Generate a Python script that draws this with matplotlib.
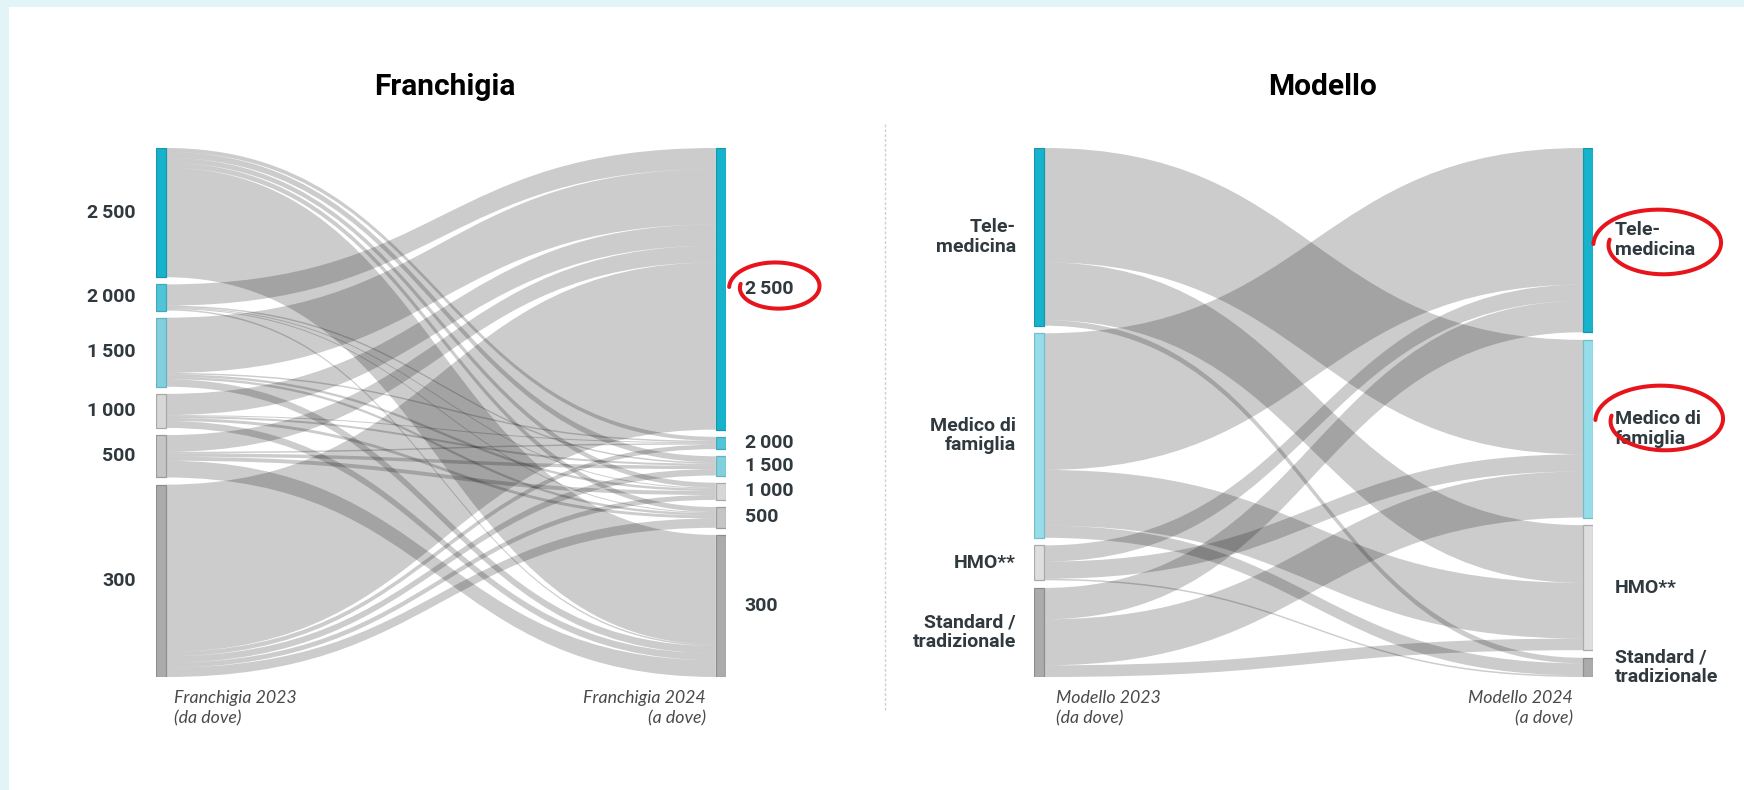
import numpy as np
import matplotlib
matplotlib.use("Agg")
import matplotlib.pyplot as plt
from matplotlib.path import Path
from matplotlib.patches import PathPatch, Rectangle
from matplotlib.lines import Line2D

plt.rcParams['font.family'] = ['Roboto', 'DejaVu Sans']

# ---------------- data (share of people who changed, %) ----------------
fr_labels = ["2\u2009500", "2\u2009000", "1\u2009500", "1\u2009000", "500", "300"]
# rows: Franchigia 2023 (da dove) ; columns: Franchigia 2024 (a dove), same order as fr_labels
fr_from_2500 = [0.0, 0.8, 1.2, 1.0, 1.0, 22.2]
fr_from_2000 = [4.3, 0.0, 0.3, 0.2, 0.2, 0.3]
fr_from_1500 = [11.2, 0.3, 0.0, 0.5, 0.5, 1.5]
fr_from_1000 = [4.3, 0.2, 0.4, 0.0, 0.6, 1.4]
fr_from_500 = [3.4, 0.3, 0.7, 0.8, 0.0, 3.4]
fr_from_300 = [33.9, 0.9, 1.3, 1.0, 1.9, 0.0]

mo_labels = ["Tele-\nmedicina", "Medico di\nfamiglia", "HMO**", "Standard /\ntradizionale"]
# rows: Modello 2023 ; columns: Modello 2024
mo_from_tele = [0.0, 22.6, 11.4, 1.1]
mo_from_medico = [27.0, 0.0, 11.0, 2.4]
mo_from_hmo = [3.2, 3.4, 0.0, 0.3]
mo_from_standard = [6.2, 9.1, 2.3, 0.0]

fr_colors = ["#17b3cc", "#52c4d7", "#82cfdd", "#d7d7d7", "#c5c5c5", "#ababab"]
fr_edges = ["#1597ad", "#3ea9bb", "#67b3c0", "#a9a9a9", "#9c9c9c", "#8e8e8e"]
mo_colors = ["#17b3cc", "#97dde9", "#dedede", "#ababab"]
mo_edges = ["#1597ad", "#72bfcb", "#ababab", "#8e8e8e"]

W, H = 1744, 790
fig = plt.figure(figsize=(W / 100, H / 100), dpi=100)
fig.patch.set_facecolor("#e2f4f8")
fig.add_artist(Rectangle((9 / W, 0), 1 - 9 / W, 1 - 7 / H, transform=fig.transFigure,
                         facecolor="white", edgecolor="none", zorder=0))

TXT = "#2f393e"


def fx(x):
    return x / W


def fy(y):
    return 1 - y / H


def sankey(rect_px, flows, colors, edges, labels, pad, lab_off_l, lab_off_r, fsize):
    x0, x1, y0, y1 = rect_px
    ax = fig.add_axes([fx(x0), fy(y1), (x1 - x0) / W, (y1 - y0) / H])
    ax.axis("off")
    flows = np.array(flows, float)
    n = len(flows)
    out_tot = flows.sum(1)
    in_tot = flows.sum(0)
    topL = np.concatenate([[0], np.cumsum(out_tot + pad)[:-1]])
    topR = np.concatenate([[0], np.cumsum(in_tot + pad)[:-1]])
    total = max(out_tot.sum(), in_tot.sum()) + (n - 1) * pad
    ax.set_xlim(0, 1)
    ax.set_ylim(total, 0)
    nw = 10.0 / (x1 - x0)
    xa, xb = nw, 1 - nw
    xm = (xa + xb) / 2
    so = topL.copy()
    to = topR.copy()
    codes = [Path.MOVETO, Path.CURVE4, Path.CURVE4, Path.CURVE4, Path.LINETO,
             Path.CURVE4, Path.CURVE4, Path.CURVE4, Path.CLOSEPOLY]
    for i in range(n):
        for j in range(n):
            v = flows[i, j]
            if v <= 0:
                continue
            s0, s1 = so[i], so[i] + v
            t0, t1 = to[j], to[j] + v
            so[i] = s1
            to[j] = t1
            verts = [(xa, s0), (xm, s0), (xm, t0), (xb, t0), (xb, t1),
                     (xm, t1), (xm, s1), (xa, s1), (xa, s0)]
            ax.add_patch(PathPatch(Path(verts, codes), facecolor=(0, 0, 0, 0.2),
                                   edgecolor="none", lw=0, zorder=1))
    for i in range(n):
        ax.add_patch(Rectangle((0, topL[i]), nw, out_tot[i], facecolor=colors[i],
                               edgecolor=edges[i], lw=0.9, zorder=3))
        ax.add_patch(Rectangle((1 - nw, topR[i]), nw, in_tot[i], facecolor=colors[i],
                               edgecolor=edges[i], lw=0.9, zorder=3))
        ax.annotate(labels[i], xy=(0, topL[i] + out_tot[i] / 2), xytext=(-lab_off_l, 0),
                    textcoords="offset pixels", ha="right", va="center", multialignment="right",
                    fontsize=fsize, fontweight="bold", color=TXT, linespacing=1.12)
        ax.annotate(labels[i], xy=(1, topR[i] + in_tot[i] / 2), xytext=(lab_off_r, 0),
                    textcoords="offset pixels", ha="left", va="center", multialignment="left",
                    fontsize=fsize, fontweight="bold", color=TXT, linespacing=1.12)
    return ax


fr_flows = [fr_from_2500, fr_from_2000, fr_from_1500, fr_from_1000, fr_from_500, fr_from_300]
mo_flows = [mo_from_tele, mo_from_medico, mo_from_hmo, mo_from_standard]

axF = sankey((155.7, 725.7, 148, 677), fr_flows, fr_colors, fr_edges, fr_labels,
             1.45, 20, 19, 14)
axM = sankey((1034, 1593, 148, 677), mo_flows, mo_colors, mo_edges, mo_labels,
             1.5, 18, 22, 14)

# titles
fig.text(fx(445), fy(87), "Franchigia", ha="center", va="center", fontsize=21.5,
         fontweight="bold", color="black")
fig.text(fx(1322), fy(87), "Modello", ha="center", va="center", fontsize=21.5,
         fontweight="bold", color="black")

# captions
cap = dict(fontsize=12.8, style="italic", color="#4a4a4a", va="top", linespacing=1.32,
           family=['Lato', 'DejaVu Sans'])
fig.text(fx(174), fy(690), "Franchigia 2023\n(da dove)", ha="left", **cap)
fig.text(fx(706), fy(690), "Franchigia 2024\n(a dove)", ha="right", multialignment="right", **cap)
fig.text(fx(1056), fy(690), "Modello 2023\n(da dove)", ha="left", **cap)
fig.text(fx(1573), fy(690), "Modello 2024\n(a dove)", ha="right", multialignment="right", **cap)

# divider
fig.add_artist(Line2D([fx(884.7), fx(884.7)], [fy(124), fy(712)], transform=fig.transFigure,
                      color="#cfcfcf", lw=1, linestyle=(0, (2, 1.5))))

# red hand-drawn highlight loops (annotation)
ov = fig.add_axes([0, 0, 1, 1], zorder=10)
ov.set_xlim(0, W)
ov.set_ylim(H, 0)
ov.axis("off")


def loop(cx, cy, rx, ry):
    t = np.linspace(0.95 * np.pi, 0.95 * np.pi + 2.05 * np.pi, 200)
    r = np.linspace(0.80, 1.04, t.size)
    ov.plot(cx + rx * r * np.cos(t), cy - ry * r * np.sin(t), color="#e8141c", lw=2.9,
            solid_capstyle="round")


loop(777, 287, 46, 25)
loop(1661, 244, 65, 35)
loop(1663, 420, 65, 35)

fig.savefig("out.png", dpi=100, facecolor=fig.get_facecolor())
